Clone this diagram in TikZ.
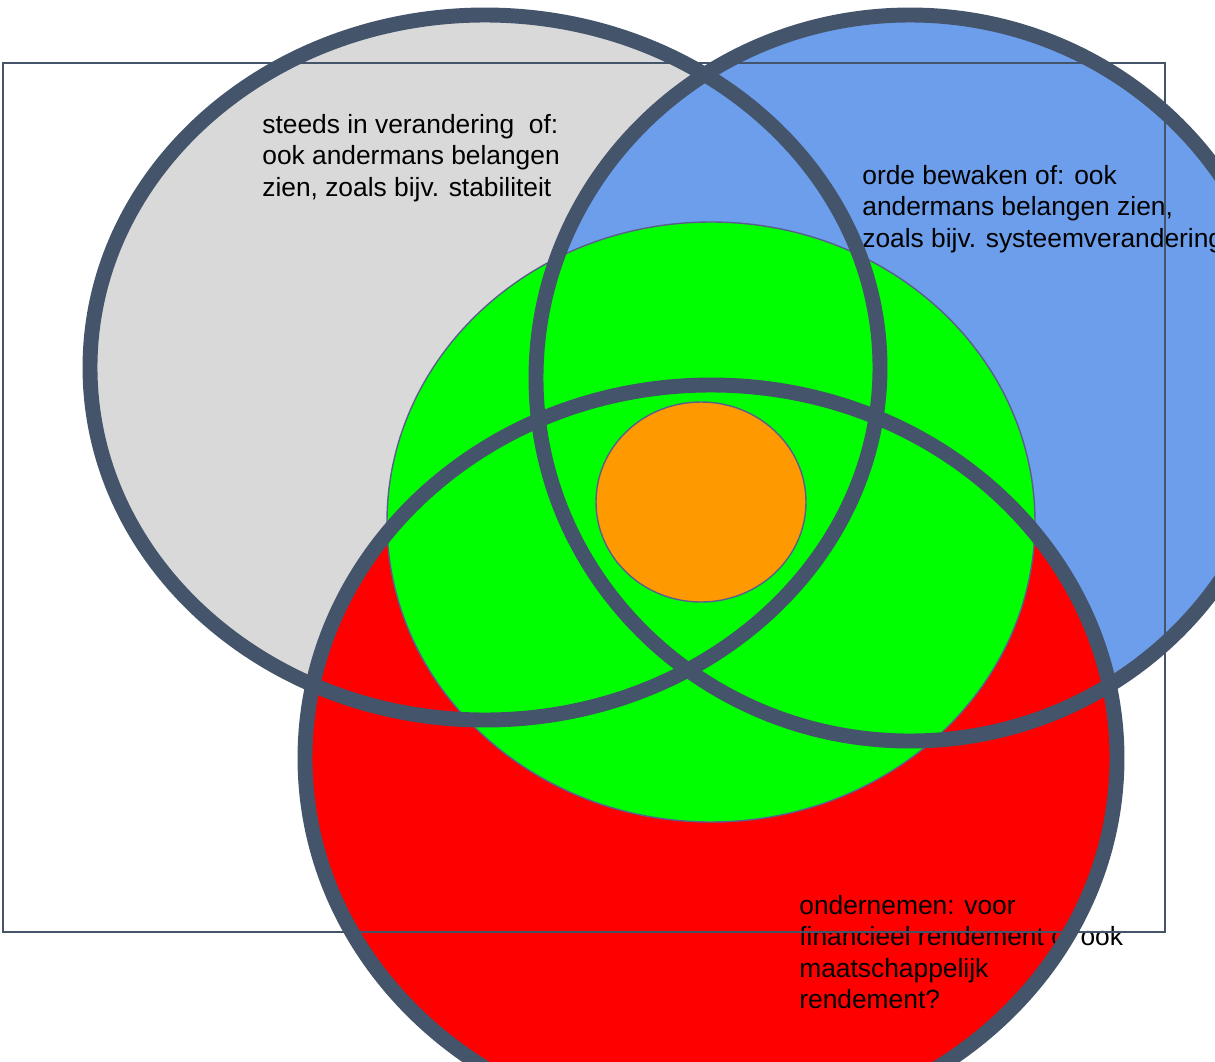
\documentclass[tikz,border=0pt]{standalone}
\usepackage{fontspec}
\setmainfont{Liberation Sans}
\usetikzlibrary{positioning}
\definecolor{leisteen}{HTML}{44546A}
\definecolor{lijnpaars}{HTML}{5A5F8C}
\definecolor{lichtgrijs}{HTML}{D9D9D9}
\definecolor{hemelblauw}{HTML}{6D9EEB}
\definecolor{fel-oranje}{HTML}{FF9900}

\begin{document}
\begin{tikzpicture}[x=0.02cm,y=-0.02cm,
        rand/.style={line width=8.5pt,draw=leisteen},
        dun/.style={line width=0.8pt,draw=lijnpaars},
        tekst/.style={anchor=north west,inner sep=0pt,align=left,
                font=\fontsize{15}{17.9}\selectfont}]
        \useasboundingbox (0,0) rectangle (1215,1062);
        
        %vlakken
        \fill[lichtgrijs] (485,367.5) ellipse [x radius=395, y radius=352.5];
        \fill[hemelblauw] (910,378) ellipse [x radius=374, y radius=363];
        \fill[red] (711,758) ellipse [x radius=406, y radius=373];
        \filldraw[dun,fill=green] (711,522) ellipse [x radius=324, y radius=300];
        \filldraw[dun,fill=fel-oranje] (701,502) ellipse [x radius=105, y radius=100];
        
        %teksten onder kader en randen
        \node[tekst] (stabiel) at (262,114) {steeds in verandering\ \ of:\\ook andermans belangen\\zien, zoals bijv. stabiliteit};
        \node[tekst] (orde) at (862,165) {orde bewaken of: ook\\andermans belangen zien,\\zoals bijv. systeemverandering};
        \node[tekst] (ondernemen) at (799,895) {ondernemen: voor\\financieel rendement of ook\\maatschappelijk\\rendement?};
        
        %kader
        \draw[line width=1.1pt,leisteen] (3,63) rectangle (1165,932);
        
        %dikke randen
        \draw[rand] (485,367.5) ellipse [x radius=395, y radius=352.5];
        \draw[rand] (910,378) ellipse [x radius=374, y radius=363];
        \draw[rand] (711,758) ellipse [x radius=406, y radius=373];
\end{tikzpicture}
\end{document}
